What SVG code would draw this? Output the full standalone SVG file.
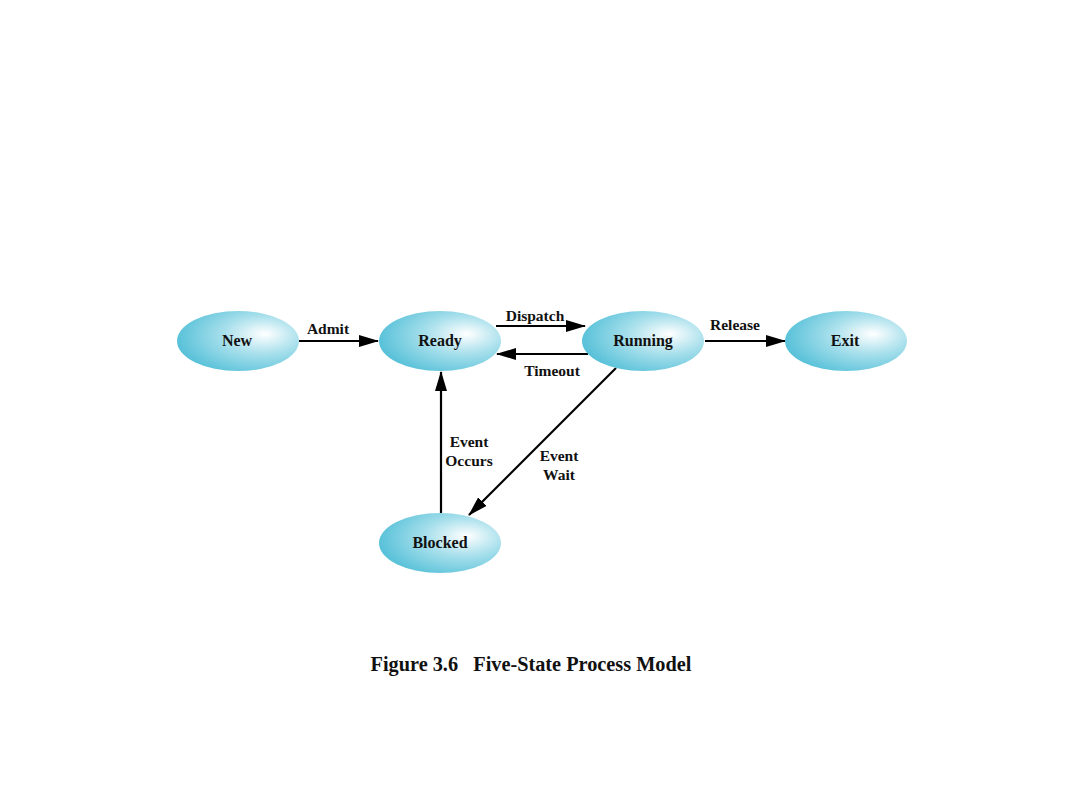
<svg xmlns="http://www.w3.org/2000/svg" width="1080" height="810" viewBox="0 0 1080 810">
<style>
.node{stroke:none}
.nl{font-family:"Liberation Serif","Times New Roman",serif;font-weight:bold;font-size:16px;text-anchor:middle;fill:#111}
.el{font-family:"Liberation Serif","Times New Roman",serif;font-weight:bold;font-size:15.5px;text-anchor:middle;fill:#111}
.cap{font-family:"Liberation Serif","Times New Roman",serif;font-weight:bold;font-size:20.3px;text-anchor:middle;fill:#111;white-space:pre}
.edge{stroke:#000;stroke-width:2.2;fill:none;marker-end:url(#ah)}
</style>
<defs>
<radialGradient id="g" cx="0.68" cy="0.42" r="0.7" fx="0.72" fy="0.38">
<stop offset="0" stop-color="#ffffff"/>
<stop offset="0.45" stop-color="#a9e0ec"/>
<stop offset="1" stop-color="#55c0d8"/>
</radialGradient>
<marker id="ah" markerWidth="20" markerHeight="12" refX="19" refY="6" orient="auto" markerUnits="userSpaceOnUse">
<path d="M0,0 L20,6 L0,12 Z" fill="#000"/>
</marker>
</defs>
<rect width="1080" height="810" fill="#fff"/>
<g id="connectors">
<line class="edge" x1="299" y1="341" x2="378" y2="341"/>
<line class="edge" x1="496" y1="326" x2="585" y2="326"/>
<line class="edge" x1="588" y1="354" x2="497" y2="354"/>
<line class="edge" x1="705" y1="341" x2="785" y2="341"/>
<line class="edge" x1="441" y1="513" x2="441" y2="372"/>
<line class="edge" x1="616" y1="368" x2="469" y2="515"/>
<text class="el" x="328" y="334">Admit</text>
<text class="el" x="535" y="321">Dispatch</text>
<text class="el" x="552" y="376">Timeout</text>
<text class="el" x="735" y="330">Release</text>
<text class="el" x="469" y="447">Event</text>
<text class="el" x="469" y="466">Occurs</text>
<text class="el" x="559" y="461">Event</text>
<text class="el" x="559" y="480">Wait</text>
</g>
<g id="new"><ellipse class="node" cx="238" cy="341" rx="61" ry="30" fill="url(#g)"/><text class="nl" x="237" y="346">New</text></g>
<g id="ready"><ellipse class="node" cx="440" cy="341" rx="61" ry="30" fill="url(#g)"/><text class="nl" x="440" y="346">Ready</text></g>
<g id="running"><ellipse class="node" cx="643" cy="341" rx="61" ry="30" fill="url(#g)"/><text class="nl" x="643" y="346">Running</text></g>
<g id="exit"><ellipse class="node" cx="846" cy="341" rx="61" ry="30" fill="url(#g)"/><text class="nl" x="845" y="346">Exit</text></g>
<g id="blocked"><ellipse class="node" cx="440" cy="543" rx="61" ry="30" fill="url(#g)"/><text class="nl" x="440" y="548">Blocked</text></g>
<text class="cap" x="531" y="671" xml:space="preserve">Figure 3.6   Five-State Process Model</text>
</svg>
